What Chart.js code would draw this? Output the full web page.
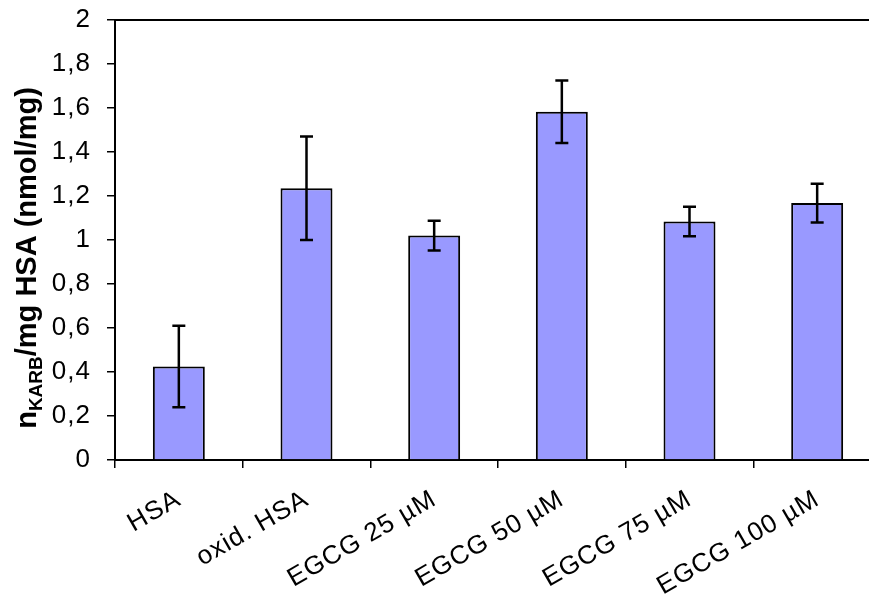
<!DOCTYPE html>
<html>
<head>
<meta charset="utf-8">
<script src="https://cdn.jsdelivr.net/npm/chart.js@4.4.1/dist/chart.umd.min.js"></script>
<style>
  html, body { margin: 0; padding: 0; background: #ffffff; overflow: hidden; }
  #wrap { width: 900px; height: 597px; }
</style>
</head>
<body>
<div id="wrap"><canvas id="c" width="900" height="597"></canvas></div>
<script>
// Carbonyl content per sample group
const categories = ['HSA', 'oxid. HSA', 'EGCG 25 µM', 'EGCG 50 µM', 'EGCG 75 µM', 'EGCG 100 µM'];
const means = [0.425, 1.235, 1.02, 1.583, 1.084, 1.168];
const errors = [0.185, 0.235, 0.068, 0.142, 0.067, 0.088];
const yTickLabels = ['0', '0,2', '0,4', '0,6', '0,8', '1', '1,2', '1,4', '1,6', '1,8', '2'];

const FONT = '"Liberation Sans", Arial, sans-serif';

// Slightly wider tracking for the axis labels
const tracking = {
  id: 'tracking',
  beforeLayout(chart) { chart.ctx.letterSpacing = '1px'; },
  beforeDraw(chart) { chart.ctx.letterSpacing = '1px'; }
};

// Symmetric error bars with caps, positioned from the bar elements and y scale
const errorBars = {
  id: 'errorBars',
  afterDatasetsDraw(chart) {
    const ctx = chart.ctx;
    const y = chart.scales.y;
    const meta = chart.getDatasetMeta(0);
    ctx.save();
    ctx.strokeStyle = '#000';
    ctx.lineWidth = 2.5;
    meta.data.forEach((bar, i) => {
      const yHi = y.getPixelForValue(means[i] + errors[i]);
      const yLo = y.getPixelForValue(means[i] - errors[i]);
      const cap = 6.5;
      ctx.beginPath();
      ctx.moveTo(bar.x, yHi); ctx.lineTo(bar.x, yLo);
      ctx.moveTo(bar.x - cap, yHi); ctx.lineTo(bar.x + cap, yHi);
      ctx.moveTo(bar.x - cap, yLo); ctx.lineTo(bar.x + cap, yLo);
      ctx.stroke();
    });
    ctx.restore();
  }
};

// Top frame line and the y-axis title with its subscript
const frameAndTitle = {
  id: 'frameAndTitle',
  afterDraw(chart) {
    const ctx = chart.ctx;
    const a = chart.chartArea;
    ctx.save();
    ctx.letterSpacing = '0px';
    ctx.strokeStyle = '#000';
    ctx.lineWidth = 2;
    ctx.beginPath();
    ctx.moveTo(a.left - 1, a.top);
    ctx.lineTo(chart.width, a.top);
    ctx.stroke();

    const big = 'bold 29px ' + FONT;
    const small = 'bold 19px ' + FONT;
    const parts = [
      { t: 'n', f: big, dy: 0 },
      { t: 'KARB', f: small, dy: 6 },
      { t: '/mg HSA (nmol/mg)', f: big, dy: 0 }
    ];
    let total = 0;
    parts.forEach(p => { ctx.font = p.f; p.w = ctx.measureText(p.t).width; total += p.w; });
    const cx = 36, cy = 258;
    ctx.translate(cx, cy);
    ctx.rotate(-Math.PI / 2);
    ctx.fillStyle = '#000';
    ctx.textBaseline = 'alphabetic';
    ctx.textAlign = 'left';
    let x = -total / 2;
    parts.forEach(p => {
      ctx.font = p.f;
      ctx.fillText(p.t, x, p.dy);
      x += p.w;
    });
    ctx.restore();
  }
};

new Chart(document.getElementById('c'), {
  type: 'bar',
  data: {
    labels: categories,
    datasets: [{
      data: means,
      backgroundColor: '#9999FF',
      borderColor: '#000000',
      borderWidth: 2,
      barPercentage: 0.407,
      categoryPercentage: 1.0
    }]
  },
  options: {
    responsive: false,
    animation: false,
    layout: { padding: { top: 20, right: 19, left: 0, bottom: 0 } },
    plugins: { legend: { display: false }, tooltip: { enabled: false } },
    scales: {
      x: {
        grid: { offset: true, drawOnChartArea: false, drawTicks: true, tickLength: 8, color: '#000', lineWidth: 1.5 },
        border: { color: '#000', width: 2 },
        ticks: {
          color: '#000',
          font: { family: FONT, size: 26 },
          minRotation: 30, maxRotation: 30,
          autoSkip: false,
          padding: 16
        },
        afterFit(s) { s.height = 137; s.paddingLeft = 0; s.paddingRight = 0; }
      },
      y: {
        min: 0, max: 2,
        grid: { drawOnChartArea: false, drawTicks: true, tickLength: 8, color: '#000', lineWidth: 1.5 },
        border: { color: '#000', width: 2 },
        ticks: {
          stepSize: 0.2,
          color: '#000',
          font: { family: FONT, size: 26 },
          padding: 16,
          callback: (v, i) => yTickLabels[i]
        },
        afterFit(s) { s.width = 115; s.paddingTop = 0; s.paddingBottom = 0; }
      }
    }
  },
  plugins: [tracking, errorBars, frameAndTitle]
});
</script>
</body>
</html>
